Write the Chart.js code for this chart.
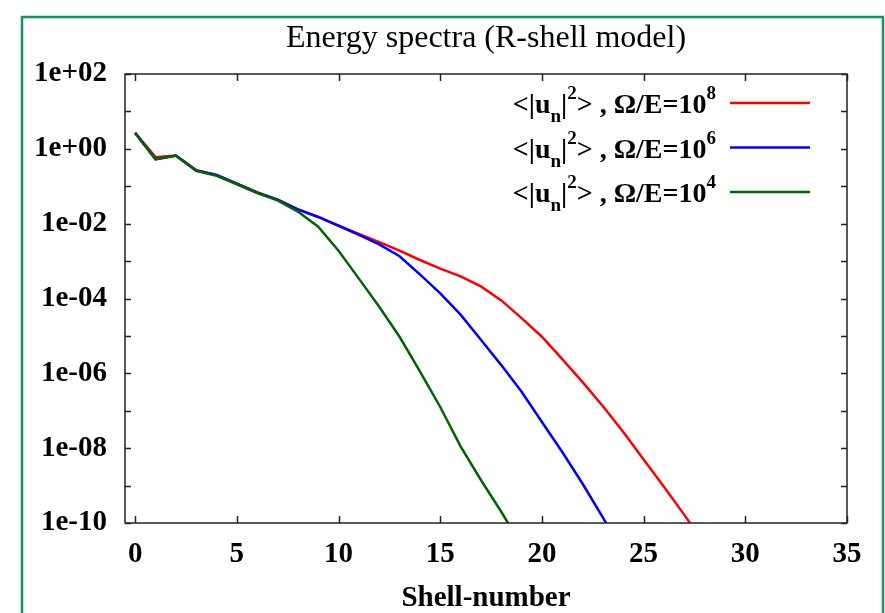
<!DOCTYPE html>
<html>
<head>
<meta charset="utf-8">
<script src="https://cdn.jsdelivr.net/npm/chart.js@4.4.1/dist/chart.umd.min.js"></script>
<style>
  html, body { margin: 0; padding: 0; background: #fff; }
  canvas { display: block; }
</style>
</head>
<body>
<canvas id="spectraChart" width="885" height="613"></canvas>
<script>
// Shell index n
const shells = [0, 1, 2, 3, 4, 5, 6, 7, 8, 9, 10, 11, 12, 13, 14, 15, 16, 17, 18, 19, 20, 21, 22, 23, 24, 25, 26, 27, 28];

// <|u_n|^2> for the three values of Omega/E
const spectrum1e8 = [2.7, 0.6, 0.66, 0.27, 0.2, 0.117, 0.068, 0.044, 0.024, 0.0151, 0.0089, 0.0053, 0.0032, 0.0019,
  1.07e-3, 6.3e-4, 3.9e-4, 2.1e-4, 8.9e-5, 3.0e-5, 9.5e-6, 2.4e-6, 5.8e-7, 1.32e-7, 2.7e-8, 5.0e-9, 9.3e-10, 1.65e-10, 2.8e-11];
const spectrum1e6 = [2.7, 0.53, 0.66, 0.264, 0.2, 0.117, 0.068, 0.044, 0.024, 0.0151, 0.0088, 0.005, 0.0028, 0.00135,
  4.4e-4, 1.38e-4, 3.7e-5, 7.9e-6, 1.66e-6, 3.2e-7, 5.0e-8, 7.9e-9, 1.12e-9, 1.4e-10, 1.6e-11];
const spectrum1e4 = [2.6, 0.52, 0.65, 0.26, 0.19, 0.113, 0.066, 0.042, 0.021, 0.0083, 1.9e-3, 3.4e-4, 6.0e-5, 9.5e-6,
  1.12e-6, 1.26e-7, 1.12e-8, 1.41e-9, 2.0e-10, 2.5e-11];

// labels: _x is a subscript, ^x a superscript
const seriesLabels = ['<|u_n|^2> , Ω/E=10^8', '<|u_n|^2> , Ω/E=10^6', '<|u_n|^2> , Ω/E=10^4'];
const seriesColors = ['#ff0000', '#0000ff', '#006400'];

const xTicks = [0, 5, 10, 15, 20, 25, 30, 35];
const yTicks = [1e-10, 1e-8, 1e-6, 1e-4, 1e-2, 1e0, 1e2];
const yTickLabels = ['1e-10', '1e-08', '1e-06', '1e-04', '1e-02', '1e+00', '1e+02'];
const yMinorTicks = [1e-9, 1e-7, 1e-5, 1e-3, 1e-1, 1e1];

const serif = "'Liberation Serif', 'Times New Roman', serif";

function toPoints(values) {
  return values.map((v, i) => ({ x: shells[i], y: v }));
}

// split '<|u_n|^2>' into normal / sub / sup pieces
function parseLabel(text) {
  const parts = [];
  const re = /([_^])(\w)|([^_^]+)/g;
  let m;
  while ((m = re.exec(text)) !== null) {
    if (m[3]) parts.push({ t: m[3], kind: 'normal' });
    else parts.push({ t: m[2], kind: m[1] === '_' ? 'sub' : 'sup' });
  }
  return parts;
}

const framePlugin = {
  id: 'frame',
  beforeDraw(chart) {
    const ctx = chart.ctx;
    ctx.save();
    ctx.strokeStyle = '#17906a';
    ctx.lineWidth = 2.5;
    ctx.strokeRect(22, 17, 861, 640);
    ctx.restore();
  },
  afterDatasetsDraw(chart) {
    const { ctx, chartArea: a, scales: { x, y } } = chart;
    ctx.save();
    ctx.strokeStyle = '#222';
    ctx.lineWidth = 1.5;
    ctx.strokeRect(a.left, a.top, a.right - a.left, a.bottom - a.top);

    // inward tick marks on all four sides
    ctx.beginPath();
    xTicks.forEach(v => {
      const px = Math.round(x.getPixelForValue(v)) + 0.5;
      ctx.moveTo(px, a.bottom); ctx.lineTo(px, a.bottom - 7);
      ctx.moveTo(px, a.top); ctx.lineTo(px, a.top + 7);
    });
    yTicks.concat(yMinorTicks).forEach(v => {
      const py = Math.round(y.getPixelForValue(v)) + 0.5;
      ctx.moveTo(a.left, py); ctx.lineTo(a.left + 6, py);
      ctx.moveTo(a.right, py); ctx.lineTo(a.right - 6, py);
    });
    ctx.stroke();

    // key in the upper right corner
    const lineEnd = a.right - 37;
    const lineStart = lineEnd - 80;
    const normalFont = 'bold 28px ' + serif;
    const smallFont = 'bold 19px ' + serif;
    seriesLabels.forEach((label, i) => {
      const rowY = a.top + 29 + i * 44.5;
      ctx.strokeStyle = seriesColors[i];
      ctx.lineWidth = 2.5;
      ctx.beginPath();
      ctx.moveTo(lineStart, rowY);
      ctx.lineTo(lineEnd, rowY);
      ctx.stroke();

      const parts = parseLabel(label);
      let total = 0;
      parts.forEach(p => {
        ctx.font = p.kind === 'normal' ? normalFont : smallFont;
        p.w = ctx.measureText(p.t).width;
        total += p.w;
      });
      let tx = lineStart - 14 - total;
      const base = rowY + 10;
      ctx.fillStyle = '#000';
      ctx.textBaseline = 'alphabetic';
      ctx.textAlign = 'left';
      parts.forEach(p => {
        ctx.font = p.kind === 'normal' ? normalFont : smallFont;
        let dy = 0;
        if (p.kind === 'sub') dy = 9;
        if (p.kind === 'sup') dy = -14;
        ctx.fillText(p.t, tx, base + dy);
        tx += p.w;
      });
    });
    ctx.restore();
  }
};

const ctx = document.getElementById('spectraChart').getContext('2d');
new Chart(ctx, {
  type: 'line',
  data: {
    datasets: [
      { label: seriesLabels[0], data: toPoints(spectrum1e8), borderColor: seriesColors[0], order: 3 },
      { label: seriesLabels[1], data: toPoints(spectrum1e6), borderColor: seriesColors[1], order: 2 },
      { label: seriesLabels[2], data: toPoints(spectrum1e4), borderColor: seriesColors[2], order: 1 }
    ]
  },
  options: {
    responsive: false,
    animation: false,
    devicePixelRatio: 1,
    layout: { padding: { top: 0, right: 38, left: 0, bottom: 0 } },
    elements: {
      point: { radius: 0 },
      line: { borderWidth: 2.5, tension: 0, fill: false }
    },
    plugins: {
      legend: { display: false },
      tooltip: { enabled: false },
      title: {
        display: true,
        fullSize: false,
        text: 'Energy spectra (R-shell model)',
        color: '#000',
        font: { family: serif, size: 32, weight: 'normal', lineHeight: 1.2 },
        padding: { top: 19, bottom: 16.6 }
      }
    },
    scales: {
      x: {
        type: 'linear',
        min: -0.5,
        max: 35,
        grid: { display: false, drawTicks: false },
        border: { display: false },
        afterFit(scale) { scale.height = 90; },
        afterBuildTicks(scale) { scale.ticks = xTicks.map(v => ({ value: v })); },
        ticks: {
          color: '#000',
          padding: 14,
          maxRotation: 0,
          font: { family: serif, size: 29, weight: 'bold' }
        },
        title: {
          display: true,
          text: 'Shell-number',
          color: '#000',
          padding: 0,
          font: { family: serif, size: 29, weight: 'bold', lineHeight: 1 }
        }
      },
      y: {
        type: 'logarithmic',
        min: 1e-10,
        max: 1e2,
        grid: { display: false, drawTicks: false },
        border: { display: false },
        afterFit(scale) { scale.width = 125; },
        afterBuildTicks(scale) { scale.ticks = yTicks.map(v => ({ value: v })); },
        ticks: {
          color: '#000',
          padding: 18,
          font: { family: serif, size: 29, weight: 'bold' },
          callback: (value) => {
            const idx = yTicks.findIndex(t => Math.abs(Math.log10(t) - Math.log10(value)) < 1e-6);
            return idx >= 0 ? yTickLabels[idx] : '';
          }
        }
      }
    }
  },
  plugins: [framePlugin]
});
</script>
</body>
</html>
